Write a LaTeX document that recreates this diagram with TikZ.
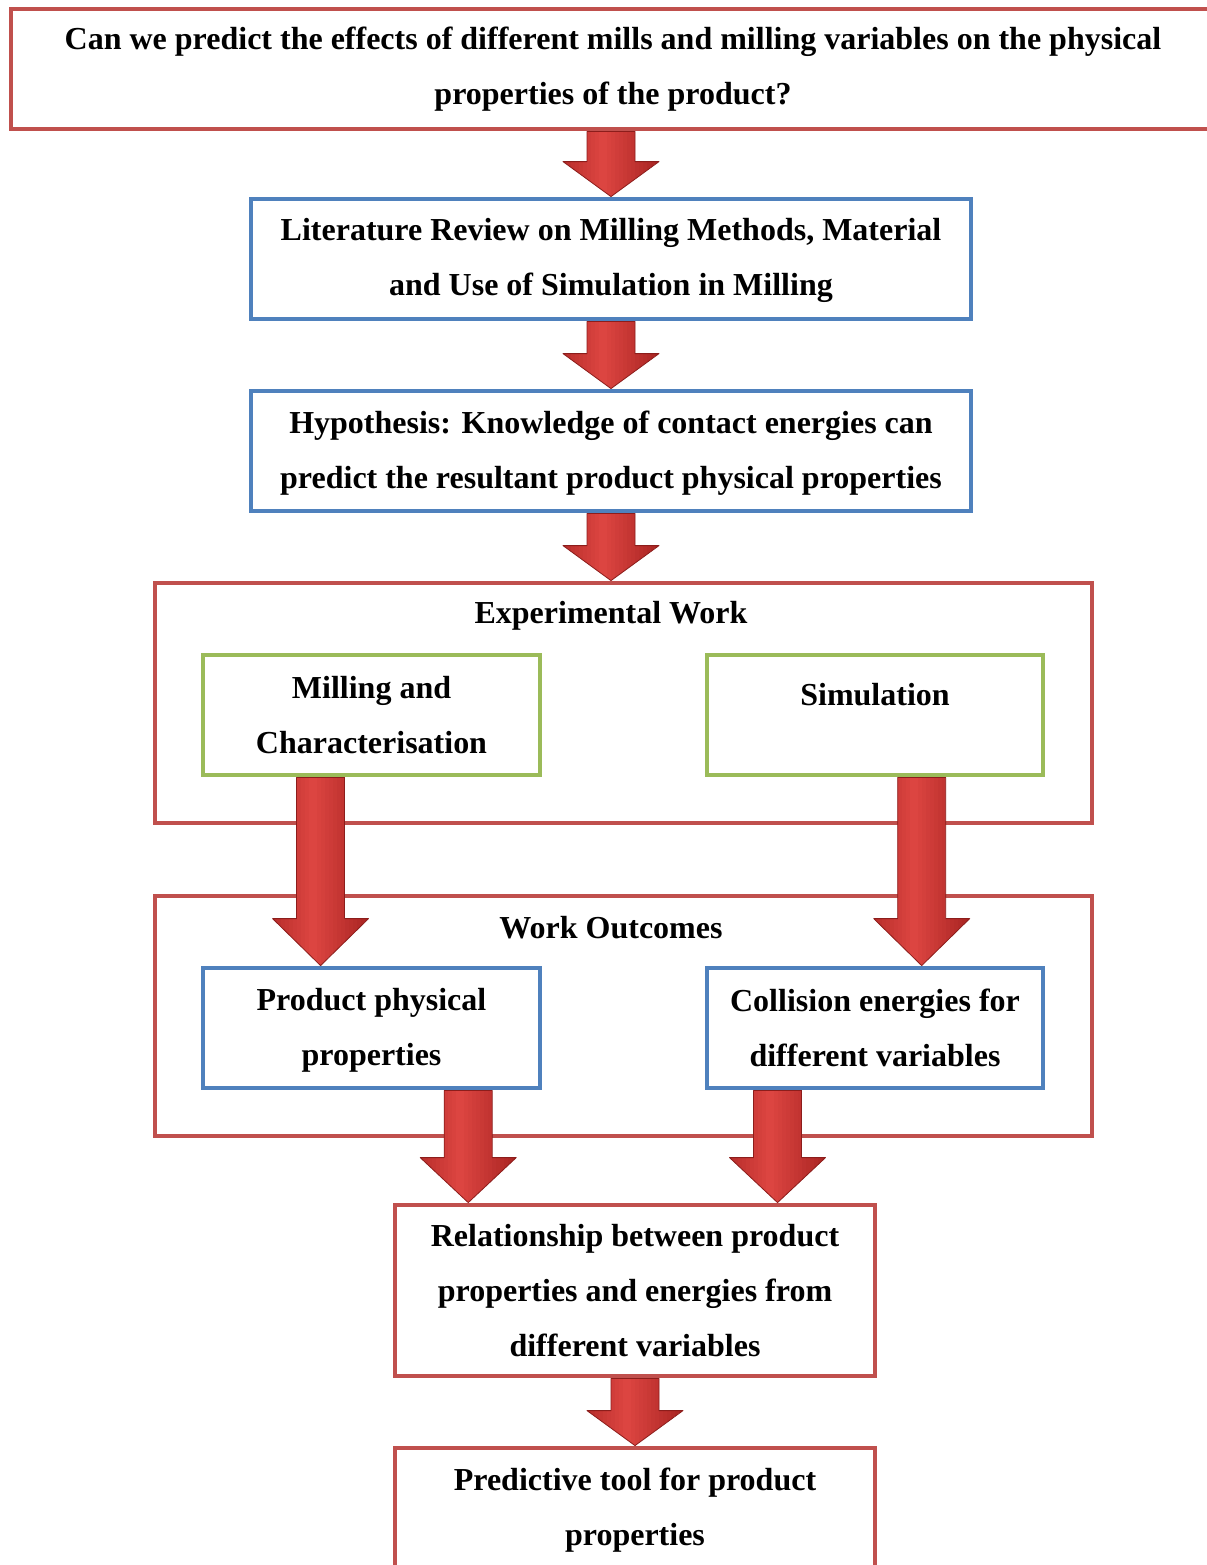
\documentclass[tikz,border=0pt]{standalone}
\usepackage{fontspec}
\setmainfont{Liberation Serif}
\usetikzlibrary{calc}
\definecolor{bred}{RGB}{192,80,77}
\definecolor{bblue}{RGB}{79,129,189}
\definecolor{bgreen}{RGB}{155,187,89}
\definecolor{ardark}{RGB}{165,34,32}
\definecolor{armid}{RGB}{222,70,66}
\tikzset{
  box/.style={draw, line width=2.4pt, fill=white, align=center, inner sep=0pt,
    font=\bfseries\fontsize{16}{27.5}\selectfont},
  redbox/.style={box, draw=bred},
  bluebox/.style={box, draw=bblue},
  greenbox/.style={box, draw=bgreen},
  title/.style={font=\bfseries\fontsize{16}{27.5}\selectfont, inner sep=0pt},
  arrowline/.style={draw=ardark!85!black, line width=0.4pt, line join=round},
}
\newcommand\arrowpoly{(\x2-12pt,\y1) -- (\x2+12pt,\y1) -- (\x2+12pt,\y2+\hl) -- (\x2+24pt,\y2+\hl)
    -- (\x2,\y2) -- (\x2-24pt,\y2+\hl) -- (\x2-12pt,\y2+\hl) -- cycle}
\newcommand\blockarrow[3]{%
  \coordinate (ba-s) at (#1);
  \coordinate (ba-e) at (#2);
  \def\hl{#3}%
  \begin{scope}
    \path[clip] let \p1=(ba-s), \p2=(ba-e) in \arrowpoly;
    \foreach \k in {0,...,23}{%
      \pgfmathtruncatemacro\pc{max(0,100-abs(\k-9.5)*100/15)}%
      \fill[armid!\pc!ardark] let \p1=(ba-s), \p2=(ba-e) in
        (\x2-24pt+\k*2pt,\y1+1pt) rectangle (\x2-21.8pt+\k*2pt,\y2-1pt);
    }
  \end{scope}
  \path[arrowline] let \p1=(ba-s), \p2=(ba-e) in \arrowpoly;
}
\newcommand\lowr{\rule{0pt}{13pt}}
\begin{document}
\begin{tikzpicture}[x=0.5pt,y=-0.5pt]
\useasboundingbox (0,0) rectangle (1206,1565);
% boxes
\node[redbox, minimum width=602pt, minimum height=60pt] (q) at (613,69)
  {Can we predict the effects of different mills and milling variables on the physical\\properties of the product?};
\node[bluebox, minimum width=360pt, minimum height=60pt] (lit) at (611,259)
  {\lowr Literature Review on Milling Methods, Material\\and Use of Simulation in Milling};
\node[bluebox, minimum width=360pt, minimum height=60pt] (hyp) at (611,451)
  {\lowr Hypothesis: Knowledge of contact energies can\\predict the resultant product physical properties};
\node[redbox, minimum width=468.5pt, minimum height=120pt] (expw) at (623.5,703) {};
\node[title] (expt) at ($(expw.north)+(-12.5,35)$) {Experimental Work};
\node[greenbox, minimum width=168.5pt, minimum height=60pt] (mill) at (371.5,715)
  {Milling and\\Characterisation};
\node[greenbox, minimum width=168pt, minimum height=60pt] (sim) at (875,715)
  {Simulation\\[-7pt]\mbox{}};
\node[redbox, minimum width=468.5pt, minimum height=120pt] (wout) at (623.5,1016) {};
\node[title] (woutt) at ($(wout.north)+(-12.5,34)$) {Work Outcomes};
\node[bluebox, minimum width=168.5pt, minimum height=60pt] (prod) at (371.5,1028)
  {\lowr Product physical\\properties};
\node[bluebox, minimum width=168pt, minimum height=60pt] (coll) at (875,1028)
  {Collision energies for\\different variables};
\node[redbox, minimum width=240pt, minimum height=85.5pt] (rel) at (635,1290.5)
  {Relationship between product\\properties and energies from\\different variables};
\node[redbox, minimum width=240pt, minimum height=62pt] (pred) at (635,1510)
  {Predictive tool for product\\properties};
% arrows
\coordinate (a4) at ($(mill.south west)!0.351!(mill.south east)$);
\coordinate (a5) at ($(sim.south west)!0.637!(sim.south east)$);
\coordinate (a6) at ($(prod.south west)!0.783!(prod.south east)$);
\coordinate (a7) at ($(coll.south west)!0.214!(coll.south east)$);
\blockarrow{lit.north |- q.south}{lit.north}{17.5pt}
\blockarrow{lit.south}{hyp.north}{17.5pt}
\blockarrow{hyp.south}{hyp.south |- expw.north}{17.5pt}
\blockarrow{a4}{a4 |- prod.north}{23.5pt}
\blockarrow{a5}{a5 |- coll.north}{23.5pt}
\blockarrow{a6}{a6 |- rel.north}{22.5pt}
\blockarrow{a7}{a7 |- rel.north}{22.5pt}
\blockarrow{rel.south}{pred.north}{17.5pt}
\end{tikzpicture}
\end{document}
